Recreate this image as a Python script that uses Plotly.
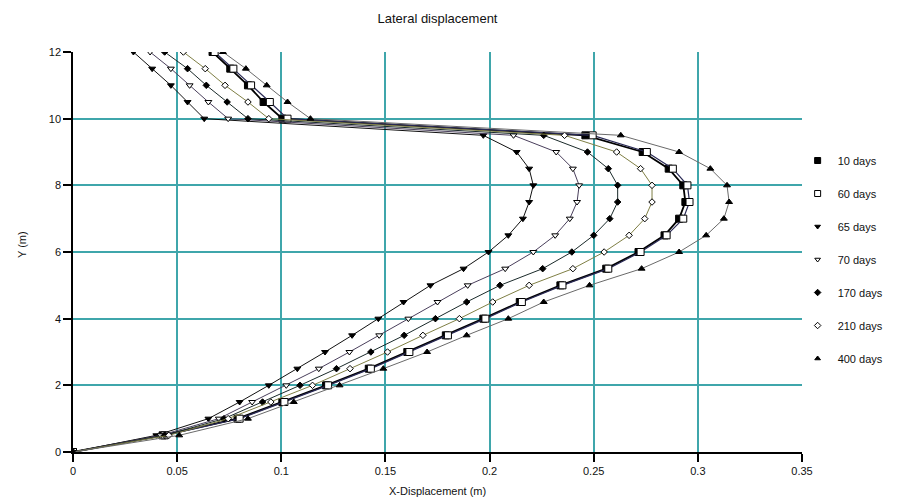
import plotly.graph_objects as go

depth = [0, 0.5, 1, 1.5, 2, 2.5, 3, 3.5, 4, 4.5, 5, 5.5, 6, 6.5, 7, 7.5, 8, 8.5, 9, 9.5, 10, 10.5, 11, 11.5, 12]

days_10 = [0, 0.043, 0.079, 0.1005, 0.1215, 0.142, 0.1605, 0.179, 0.197, 0.2145, 0.234, 0.256, 0.2715, 0.284, 0.291, 0.294, 0.293, 0.286, 0.2735, 0.246, 0.1005, 0.0915, 0.084, 0.0755, 0.067]
days_60 = [0, 0.044, 0.080, 0.1015, 0.1225, 0.143, 0.1615, 0.180, 0.198, 0.2155, 0.235, 0.257, 0.2725, 0.285, 0.293, 0.296, 0.295, 0.288, 0.2755, 0.2495, 0.103, 0.0945, 0.0855, 0.077, 0.068]
days_65 = [0, 0.040, 0.065, 0.080, 0.094, 0.1077, 0.121, 0.134, 0.1466, 0.1587, 0.1716, 0.1875, 0.1995, 0.209, 0.216, 0.219, 0.221, 0.219, 0.213, 0.197, 0.063, 0.055, 0.047, 0.038, 0.029]
days_70 = [0, 0.042, 0.070, 0.086, 0.1024, 0.118, 0.1327, 0.147, 0.161, 0.175, 0.1895, 0.2075, 0.221, 0.2315, 0.2385, 0.242, 0.243, 0.240, 0.232, 0.2115, 0.0745, 0.065, 0.056, 0.047, 0.037]
days_170 = [0, 0.044, 0.0725, 0.091, 0.109, 0.1265, 0.143, 0.159, 0.174, 0.189, 0.205, 0.2255, 0.2395, 0.250, 0.2577, 0.2615, 0.2615, 0.257, 0.247, 0.226, 0.084, 0.074, 0.064, 0.055, 0.044]
days_210 = [0, 0.046, 0.0745, 0.095, 0.115, 0.133, 0.151, 0.168, 0.1855, 0.2015, 0.219, 0.240, 0.255, 0.267, 0.2745, 0.278, 0.278, 0.2725, 0.261, 0.236, 0.094, 0.084, 0.073, 0.0635, 0.053]
days_400 = [0, 0.051, 0.084, 0.106, 0.128, 0.149, 0.170, 0.189, 0.209, 0.226, 0.248, 0.273, 0.291, 0.304, 0.3125, 0.315, 0.314, 0.306, 0.291, 0.263, 0.114, 0.103, 0.093, 0.083, 0.072]

# name, values, symbol, filled, marker size, line colour, line width
series = [
    ("10 days", days_10, "square", True, 7, "#000000", 1.8),
    ("60 days", days_60, "square", False, 7, "#2a2a55", 1.2),
    ("65 days", days_65, "triangle-down", True, 6, "#111111", 1.0),
    ("70 days", days_70, "triangle-down", False, 6, "#4a3f5c", 1.0),
    ("170 days", days_170, "diamond", True, 5, "#1a2a2a", 1.0),
    ("210 days", days_210, "diamond", False, 5, "#7f7f45", 1.0),
    ("400 days", days_400, "triangle-up", True, 6, "#6a6a6a", 1.0),
]

x_ticks = [0, 0.05, 0.1, 0.15, 0.2, 0.25, 0.3, 0.35]
x_tick_labels = ["0", "0.05", "0.1", "0.15", "0.2", "0.25", "0.3", "0.35"]
y_ticks = [0, 2, 4, 6, 8, 10, 12]


def mk(sym, filled, size):
    return dict(symbol=sym, size=size, color="#000000" if filled else "#ffffff",
                line=dict(color="#000000", width=1))


fig = go.Figure()
for i, (name, xs, sym, filled, ms, col, lw) in enumerate(series):
    fig.add_trace(go.Scatter(
        x=xs, y=depth, mode="lines+markers", name=name, showlegend=False,
        line=dict(color=col, width=lw), marker=mk(sym, filled, ms),
        legendgroup=f"g{i}",
    ))
for i, (name, xs, sym, filled, ms, col, lw) in enumerate(series):
    fig.add_trace(go.Scatter(
        x=[None], y=[None], mode="markers", name=name, showlegend=True,
        marker=mk(sym, filled, max(ms - 1, 5)), legendgroup=f"g{i}",
    ))

fig.update_layout(
    width=910, height=504,
    margin=dict(l=73, r=108, t=52, b=52, autoexpand=False),
    paper_bgcolor="white", plot_bgcolor="white",
    font=dict(family="Liberation Sans, Arial, sans-serif", size=11, color="#111111"),
    title=dict(text="Lateral displacement", x=(73 + 802) / 2 / 910, xanchor="center",
               y=1 - 18 / 504, yanchor="middle", font=dict(size=13, color="#111111")),
    legend=dict(x=0.994, xanchor="left", y=1 - 94 / 400, yanchor="top",
                tracegroupgap=14, font=dict(size=11, color="#111111"),
                bgcolor="rgba(0,0,0,0)", itemwidth=30),
    showlegend=True,
    annotations=[
        dict(text="X-Displacement (m)", xref="paper", yref="paper",
             x=0.5, y=-(491 - 452) / 400, xanchor="center", yanchor="middle",
             showarrow=False, font=dict(size=11, color="#111111")),
        dict(text="Y (m)", xref="paper", yref="paper", textangle=-90,
             x=(22 - 73) / 729, y=(452 - 245) / 400, xanchor="center", yanchor="middle",
             showarrow=False, font=dict(size=11, color="#111111")),
    ],
)
fig.update_xaxes(
    range=[0, 0.35], tickvals=x_ticks, ticktext=x_tick_labels,
    showgrid=True, gridcolor="#3fa6ab", gridwidth=1.5,
    showline=True, linecolor="#000000", linewidth=1.5,
    ticks="outside", ticklen=8, tickcolor="#000000", tickwidth=1.5,
    zeroline=False, tickfont=dict(size=11), automargin=False,
)
fig.update_yaxes(
    range=[0, 12], tickvals=y_ticks,
    showgrid=True, gridcolor="#3fa6ab", gridwidth=1.5,
    showline=True, linecolor="#000000", linewidth=1.5,
    ticks="outside", ticklen=8, tickcolor="#000000", tickwidth=1.5,
    zeroline=False, tickfont=dict(size=11), automargin=False,
)

fig.write_html("out.html")
